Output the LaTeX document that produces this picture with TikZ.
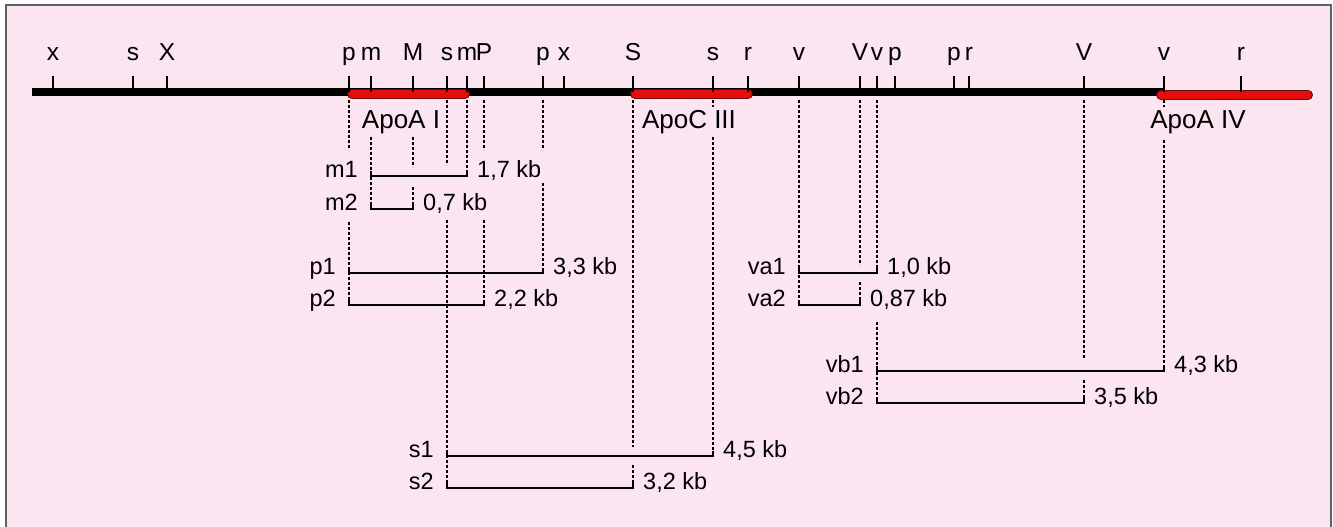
\documentclass[tikz,border=0pt]{standalone}
\usepackage{fontspec}
\setmainfont{Liberation Sans}
\usetikzlibrary{positioning}
\definecolor{mappink}{RGB}{251,229,240}
\definecolor{genered}{RGB}{228,14,14}
\definecolor{generim}{RGB}{110,10,10}
\definecolor{framegray}{RGB}{95,95,95}

\begin{document}
\begin{tikzpicture}[
    x=1pt, y=-1pt,
    site/.style={anchor=base, inner sep=0pt, font=\fontsize{24.5}{28}\selectfont},
    gene/.style={inner sep=0pt, font=\fontsize{26}{30}\selectfont},
    frlbl/.style={inner sep=0pt, font=\fontsize{23.5}{28}\selectfont},
    dna/.style={line width=8pt},
    exonrim/.style={line width=10pt, line cap=round, draw=generim},
    exon/.style={line width=7.5pt, line cap=round, draw=genered},
    sitetick/.style={line width=1.5pt},
    guide/.style={line width=1.1pt, dash pattern=on 3pt off 2pt},
    frag/.style={line width=1.8pt}
  ]
    \useasboundingbox (0,0) rectangle (1333,527);
    \fill[mappink] (6,5) rectangle (1331,527);
    \draw[framegray, line width=2pt] (6,527) -- (6,5) -- (1331,5) -- (1331,527);

    % restriction sites on the map
    \foreach \nm/\xx/\lb in {xA/53/x, sA/133/s, XA/167/X, pA/349/p, mA/371/m, MA/413/M,
        sB/447/s, mB/467/m, PA/484/P, pB/543/p, xB/564/x, SA/633/S, sC/713/s, rA/748/r,
        vA/799/v, VA/860/V, vB/877/v, pC/895/p, pD/954/p, rB/969/r, VB/1084/V, vC/1164/v, rC/1241/r}{
      \coordinate (\nm) at (\xx,92);
    }
    \coordinate (dnaL) at (32,92);
    \coordinate (dnaR) at (1165,92);
    \draw[dna] (dnaL) -- (dnaR);

    % genes
    \coordinate (a1L) at (352,94);  \coordinate (a1R) at (465,94);
    \coordinate (c3L) at (635,94);  \coordinate (c3R) at (748,94);
    \coordinate (a4L) at (1161,95); \coordinate (a4R) at (1308,95);
    \foreach \g in {a1, c3, a4}{
      \draw[exonrim] (\g L) -- (\g R);
      \draw[exon] (\g L) -- (\g R);
    }
    \node[gene] (apoa1) at (401,122) {ApoA I};
    \node[gene] (apoc3) at (689,122) {ApoC III};
    \node[gene] (apoa4) at (1198,122) {ApoA IV};

    \foreach \nm/\lb in {xA/x, sA/s, XA/X, pA/p, mA/m, MA/M, sB/s, mB/m, PA/P, pB/p, xB/x,
        SA/S, sC/s, rA/r, vA/v, VA/V, vB/v, pC/p, pD/p, rB/r, VB/V, vC/v, rC/r}{
      \draw[sitetick] (\nm) -- ++(0,-16);
      \node[site] (lbl-\nm) at ([yshift=32pt]\nm) {\lb};
    }

    % dashed guides down to the fragments
    \foreach \st/\ya/\yb in {pA/100/150, pA/222/305, mA/137/209, MA/137/167, MA/187/209,
        sB/100/165, sB/220/488, mB/100/176, PA/100/150, PA/220/305, pB/100/150, pB/183/273,
        SA/100/447, SA/465/488, sC/100/107, sC/137/456, vA/100/305, VA/100/265, VA/282/305,
        vB/100/273, vB/322/403, VB/100/358, VB/380/403, vC/100/107, vC/140/371}{
      \draw[guide] (\st |- 0,\ya) -- (\st |- 0,\yb);
    }

    % fragments
    \foreach \nm/\a/\b/\yy/\kb in {m1/mA/mB/176/{1,7 kb}, m2/mA/MA/209/{0,7 kb},
        p1/pA/pB/273/{3,3 kb}, p2/pA/PA/305/{2,2 kb}, s1/sB/sC/456/{4,5 kb},
        s2/sB/SA/488/{3,2 kb}, va1/vA/vB/273/{1,0 kb}, va2/vA/VA/305/{0,87 kb},
        vb1/vB/vC/371/{4,3 kb}, vb2/vB/VB/403/{3,5 kb}}{
      \coordinate (\nm-l) at (\a |- 0,\yy);
      \coordinate (\nm-r) at (\b |- 0,\yy);
      \draw[frag] ([yshift=5pt]\nm-l) -- (\nm-l) -- (\nm-r) -- ([yshift=5pt]\nm-r);
      \node[frlbl, anchor=base east] (\nm) at ([xshift=-13pt, yshift=-1pt]\nm-l) {\nm};
      \node[frlbl, anchor=base west] (\nm-kb) at ([xshift=10pt, yshift=-1pt]\nm-r) {\kb};
    }
\end{tikzpicture}
\end{document}
